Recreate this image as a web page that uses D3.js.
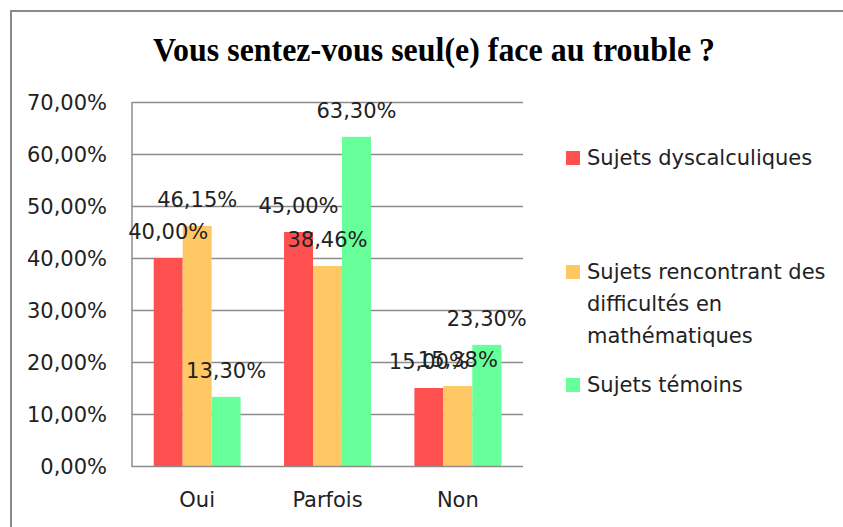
<!DOCTYPE html>
<html><head><meta charset="utf-8">
<script src="https://cdn.jsdelivr.net/npm/d3@7"></script>
<style>body{margin:0;background:#fff}svg{display:block}</style>
</head><body>
<script>
const categories = ["Oui", "Parfois", "Non"];
const seriesNames = ["Sujets dyscalculiques", "Sujets rencontrant des difficultés en mathématiques", "Sujets témoins"];
const seriesLegendLines = [["Sujets dyscalculiques"], ["Sujets rencontrant des", "difficultés en", "mathématiques"], ["Sujets témoins"]];
const dyscalculiques = [40.00, 45.00, 15.00];
const difficultes = [46.15, 38.46, 15.38];
const temoins = [13.30, 63.30, 23.30];
const yTicks = [0, 10, 20, 30, 40, 50, 60, 70];
const colors = ["#FF5050", "#FFC864", "#66FF99"];
const series = [dyscalculiques, difficultes, temoins];

(function () {
const W = 843, H = 527;
const svg = d3.select("body").append("svg").attr("width", W).attr("height", H);
const font = "DejaVu Sans, Verdana, sans-serif";
const fs = 21;
const fmt = v => d3.format(".2f")(v).replace(".", ",") + "%";

svg.append("path").attr("d", `M11,${H+5} L11,11 L${W+5},11`).attr("fill", "none").attr("stroke", "#8a8a8a").attr("stroke-width", 2);

svg.append("text").attr("x", 434).attr("y", 61).attr("text-anchor", "middle")
  .attr("font-family", "Liberation Serif, Times New Roman, serif").attr("font-weight", "bold")
  .attr("font-size", 33).attr("textLength", 562).attr("lengthAdjust", "spacingAndGlyphs")
  .text("Vous sentez-vous seul(e) face au trouble ?");

const pL = 132, pR = 523, pT = 102, pB = 466;
const y = d3.scaleLinear().domain([0, 70]).range([pB, pT]);
const x0 = d3.scaleBand().domain(categories).range([pL, pR]).paddingInner(0).paddingOuter(0);
const x1 = d3.scaleBand().domain(d3.range(3)).range([0, x0.bandwidth()]).paddingOuter(0.75).paddingInner(0);

svg.append("g").selectAll("line").data(yTicks.filter(t => t > 0)).join("line")
  .attr("x1", pL).attr("x2", pR).attr("y1", d => Math.round(y(d)) + 0.5).attr("y2", d => Math.round(y(d)) + 0.5)
  .attr("stroke", "#8c8c8c").attr("stroke-width", 1.5);

const yAxis = svg.append("g").attr("transform", `translate(${pL},0)`)
  .call(d3.axisLeft(y).tickValues(yTicks).tickSize(0).tickPadding(25).tickFormat(d => d.toFixed(2).replace(".", ",") + "%"));
yAxis.select(".domain").remove();
yAxis.selectAll("text").attr("font-family", font).attr("font-size", fs).attr("fill", "#222").attr("dy", "0.35em");

series.forEach((vals, si) => {
  svg.append("g").selectAll("rect").data(vals).join("rect")
    .attr("x", (d, i) => x0(categories[i]) + x1(si))
    .attr("y", d => y(d))
    .attr("width", x1.bandwidth())
    .attr("height", d => pB - y(d))
    .attr("fill", colors[si]);
});

svg.append("line").attr("x1", pL).attr("x2", pL).attr("y1", pT).attr("y2", pB + 1).attr("stroke", "#8c8c8c").attr("stroke-width", 1.5);
svg.append("line").attr("x1", pL).attr("x2", pR).attr("y1", pB + 0.5).attr("y2", pB + 0.5).attr("stroke", "#8c8c8c").attr("stroke-width", 1.5);

const xAxis = svg.append("g").attr("transform", `translate(0,${pB})`)
  .call(d3.axisBottom(x0).tickSize(0).tickPadding(26));
xAxis.select(".domain").remove();
xAxis.selectAll("text").attr("font-family", font).attr("font-size", fs).attr("fill", "#222");

series.forEach((vals, si) => {
  svg.append("g").selectAll("text").data(vals).join("text")
    .attr("x", (d, i) => x0(categories[i]) + x1(si) + x1.bandwidth() / 2)
    .attr("y", d => y(d) - 19)
    .attr("text-anchor", "middle")
    .attr("font-family", font).attr("font-size", fs).attr("fill", "#222")
    .text(d => fmt(d));
});

const legendY = [158, 272, 385];
seriesLegendLines.forEach((lines, si) => {
  const g = svg.append("g");
  g.append("rect").attr("x", 566).attr("y", legendY[si] - 7).attr("width", 14).attr("height", 14).attr("fill", colors[si]);
  lines.forEach((ln, li) => {
    g.append("text").attr("x", 587).attr("y", legendY[si] + li * 32).attr("dy", "0.35em")
      .attr("font-family", font).attr("font-size", fs).attr("fill", "#222").text(ln);
  });
});
})();
</script>
</body></html>
